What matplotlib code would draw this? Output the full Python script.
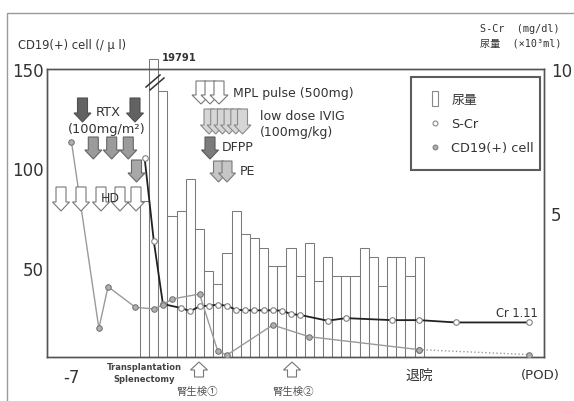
import numpy as np
import matplotlib
matplotlib.use("Agg")
import matplotlib.pyplot as plt
from matplotlib.patches import Rectangle, Polygon
from matplotlib.lines import Line2D
from matplotlib.legend_handler import HandlerPatch

plt.rcParams['font.family'] = ['DejaVu Sans', 'Noto Sans CJK JP']

# ---------------- data ----------------
bar_days = list(range(0, 31))
urine = [5.42, 19.791, 9.24, 4.90, 5.07, 6.18, 4.44, 2.99, 2.53, 3.61, 5.07,
         4.27, 4.13, 3.78, 3.16, 3.16, 3.78, 2.81, 3.96, 2.64, 3.47, 2.81,
         2.81, 2.81, 3.78, 3.47, 2.47, 3.47, 3.47, 2.81, 3.47]
urine_display_cap = 10.35

scr_days = [0, 1, 2, 4, 5, 6, 7, 8, 9, 10, 11, 12, 13, 14, 15, 16, 17, 20, 22,
            27, 30, 34, 42]
scr = [6.91, 4.03, 1.84, 1.70, 1.59, 1.76, 1.78, 1.82, 1.78, 1.64, 1.62, 1.62,
       1.62, 1.62, 1.61, 1.49, 1.46, 1.26, 1.35, 1.28, 1.28, 1.20, 1.20]

cd19_days = [-8, -5, -4, -1, 1, 2, 3, 6, 8, 9, 14, 18, 30, 42]
cd19 = [113.4, 19.4, 40.4, 30.0, 29.2, 31.3, 34.2, 36.7, 7.9, 6.0, 21.1,
        15.2, 8.7, 6.2]

xtick_pos = [-8, 30, 43.3]
xtick_labels = ['-7', '退院', '(POD)']
left_ticks = [50, 100, 150]
right_ticks = [5, 10]

# ---------------- figure ----------------
W, H = 574, 402
fig = plt.figure(figsize=(W / 100, H / 100), dpi=100)
fig.patch.set_facecolor('white')

ax_l, ax_r, ax_t, ax_b = 47, 544, 70, 358
ax = fig.add_axes([ax_l / W, 1 - ax_b / H, (ax_r - ax_l) / W, (ax_b - ax_t) / H])
ax2 = ax.twinx()
ax.set_zorder(ax2.get_zorder() + 1)
ax.patch.set_visible(False)

txt = '#333333'
spc = '#555555'

# bars (urine volume, right axis)
heights = np.minimum(urine, urine_display_cap)
bars = ax2.bar(bar_days, heights, width=1.0, facecolor='white',
               edgecolor='#7a7a7a', linewidth=0.75, zorder=1)
for b, v in zip(bars, urine):
    if v > urine_display_cap:
        b.set_clip_on(False)

# S-Cr line (right axis)
ax2.plot(scr_days, scr, color='#222222', lw=1.3, zorder=3,
         marker='o', ms=4, mfc='white', mec='#808080', mew=0.8)
ax2.annotate('Cr 1.11', xy=(scr_days[-1], scr[-1]), xytext=(6.5, 7.4),
             textcoords='offset points', ha='right', va='center',
             fontsize=8.3, color=txt)

# CD19 line (left axis)
ax.plot(cd19_days[:-1], cd19[:-1], color='#9a9a9a', lw=1.0, zorder=3,
        marker='o', ms=4, mfc='#b0b0b0', mec='#6e6e6e', mew=0.7)
ax.plot(cd19_days[-2:], cd19[-2:], color='#9a9a9a', lw=1.0, ls=':', zorder=3,
        marker='o', ms=4, mfc='#b0b0b0', mec='#6e6e6e', mew=0.7)

ax.set_xlim(-10.67, 43.65)
ax.set_ylim(5, 150)
ax2.set_ylim(0, 10)

ax.set_yticks(left_ticks)
ax.tick_params(axis='y', length=0, pad=2, labelsize=12, labelcolor=txt)
ax2.set_yticks(right_ticks)
ax2.tick_params(axis='y', length=0, pad=5, labelsize=12, labelcolor=txt)
ax.set_xticks(xtick_pos, xtick_labels)
ax.tick_params(axis='x', length=0, pad=8, labelcolor=txt)
xl = ax.get_xticklabels()
xl[0].set_fontsize(12)
xl[1].set_fontsize(10)
xl[2].set_fontsize(9.5)

for a in (ax, ax2):
    for s in a.spines.values():
        s.set_color(spc)
        s.set_linewidth(1.0)

# legend
def make_bar(legend, orig_handle, xdescent, ydescent, width, height, fontsize):
    cx = -xdescent + width / 2
    cy = -ydescent + height / 2
    return Rectangle((cx - 2.3, cy - 5.5), 4.6, 11)

h_bar = Rectangle((0, 0), 1, 1, facecolor='white', edgecolor='#888888', lw=0.8)
h_scr = Line2D([], [], ls='none', marker='o', ms=3.5, mfc='white', mec='#888888', mew=0.8)
h_cd = Line2D([], [], ls='none', marker='o', ms=3.5, mfc='#b0b0b0', mec='#777777', mew=0.7)
leg = ax.legend([h_bar, h_scr, h_cd], ['尿量', 'S-Cr', 'CD19(+) cell'],
                handler_map={Rectangle: HandlerPatch(patch_func=make_bar)},
                loc='upper left', bbox_to_anchor=(0.732, 0.972, 0.26, 0.0),
                mode='expand', borderaxespad=0, fontsize=9.3, frameon=True,
                fancybox=False, borderpad=1.25, labelspacing=0.85,
                handlelength=1.2, handletextpad=0.7, labelcolor=txt)
leg.get_frame().set_edgecolor('#333333')
leg.get_frame().set_linewidth(1.5)

# ---------------- overlay in pixel coordinates ----------------
ov = fig.add_axes([0, 0, 1, 1], zorder=10)
ov.set_xlim(0, W)
ov.set_ylim(H, 0)
ov.axis('off')

ov.add_patch(Rectangle((7, 14), W, H, fill=False, ec='#9a9a9a', lw=1.0))


def block_arrow(cx, y0, y1, fc, hw=17, sw=10, hl=9, ec='#666666', lw=0.8):
    d = 1 if y1 > y0 else -1
    yb = y1 - d * hl
    pts = [(cx - sw / 2, y0), (cx + sw / 2, y0), (cx + sw / 2, yb),
           (cx + hw / 2, yb), (cx, y1), (cx - hw / 2, yb), (cx - sw / 2, yb)]
    ov.add_patch(Polygon(pts, closed=True, fc=fc, ec=ec, lw=lw,
                         joinstyle='miter'))


for c in [82.5, 135]:
    block_arrow(c, 99, 123, '#626262', ec='#505050')
for c in [93.3, 111.7, 128.3]:
    block_arrow(c, 138, 160, '#9b9b9b')
block_arrow(136.5, 161, 183, '#a8a8a8')
for c in [61, 81, 101, 120, 136]:
    block_arrow(c, 188, 212, 'white', ec='#777777')
for c in [201, 210, 219]:
    block_arrow(c, 82, 105, 'white', hw=18, ec='#777777')
for c in [209, 215.7, 222.4, 229.1, 235.8, 242.5]:
    block_arrow(c, 110, 135, '#d6d6d6', ec='#8a8a8a')
block_arrow(210, 138, 160, '#7c7c7c', ec='#5a5a5a')
for c in [218.5, 227]:
    block_arrow(c, 162, 183, '#c6c6c6', ec='#7a7a7a')
for c in [199, 292]:
    block_arrow(c, 378, 363, 'white', hw=17, sw=9, hl=8, ec='#777777')

# break marks on the off-scale bar
ov.plot([146, 160], [88, 76], color='#333333', lw=1.1)
ov.plot([150, 164], [91, 79], color='#333333', lw=1.1)

ov.text(18, 45, 'CD19(+) cell (/ μ l)', fontsize=8.3, color=txt,
        ha='left', va='center')
mono = ['DejaVu Sans Mono', 'Noto Sans CJK JP']
ov.text(480, 29, 'S-Cr  (mg/dl)', family=mono, fontsize=7.3, color=txt,
        ha='left', va='center')
ov.text(480, 44, '尿量  (×10³ml)', family=mono, fontsize=7.3, color=txt,
        ha='left', va='center')
ov.text(162, 58, '19791', fontsize=7.2, fontweight='bold', color=txt,
        ha='left', va='center')
ov.text(108.5, 112, 'RTX', fontsize=9.3, color=txt, ha='center', va='center')
ov.text(107, 130, '(100mg/m²)', fontsize=9.3, color=txt, ha='center', va='center')
ov.text(110, 199, 'HD', fontsize=9, color=txt, ha='center', va='center')
ov.text(233, 93, 'MPL pulse (500mg)', fontsize=9, color=txt, ha='left', va='center')
ov.text(260, 116, 'low dose IVIG', fontsize=9, color=txt, ha='left', va='center')
ov.text(260, 133, '(100mg/kg)', fontsize=9, color=txt, ha='left', va='center')
ov.text(222, 148, 'DFPP', fontsize=9, color=txt, ha='left', va='center')
ov.text(240, 172, 'PE', fontsize=9, color=txt, ha='left', va='center')
ov.text(144, 368, 'Transplantation', fontsize=6, fontweight='bold', color='#444444',
        ha='center', va='center')
ov.text(144, 380, 'Splenectomy', fontsize=6, fontweight='bold', color='#444444',
        ha='center', va='center')
cjk = ['Noto Sans CJK JP', 'DejaVu Sans']
ov.text(197, 392, '腎生検①', family=cjk, fontsize=7.5, color='#555555',
        ha='center', va='center')
ov.text(293, 392, '腎生検②', family=cjk, fontsize=7.5, color='#555555',
        ha='center', va='center')

fig.savefig('out.png', dpi=100)
